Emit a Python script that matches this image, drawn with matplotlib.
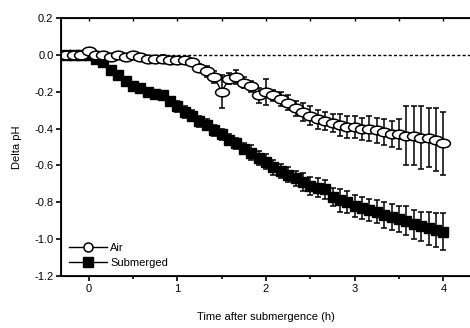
import numpy as np
import matplotlib
matplotlib.use('Agg')
import matplotlib.pyplot as plt
from matplotlib.path import Path
from matplotlib.lines import Line2D

plt.rcParams['font.family'] = ['Liberation Sans', 'DejaVu Sans']

# time of each reading, in minutes relative to submergence
minutes = [-15, -10, -5, 0, 5, 10, 15, 20, 25, 30, 35, 40, 45, 50, 55, 60,
           65, 70, 75, 80, 85, 90, 95, 100, 105, 110, 115, 120, 125, 130,
           135, 140, 145, 150, 155, 160, 165, 170, 175, 180, 185, 190, 195,
           200, 205, 210, 215, 220, 225, 230, 235, 240]

air = [0.0, 0.0, 0.0, 0.02, 0.0, 0.0, -0.01, 0.0, -0.01, 0.0, -0.01, -0.02,
       -0.02, -0.02, -0.03, -0.03, -0.03, -0.04, -0.07, -0.09, -0.12, -0.20,
       -0.13, -0.12, -0.15, -0.17, -0.22, -0.20, -0.22, -0.24, -0.26, -0.29,
       -0.31, -0.33, -0.35, -0.36, -0.37, -0.38, -0.39, -0.39, -0.40, -0.40,
       -0.41, -0.42, -0.43, -0.43, -0.44, -0.44, -0.45, -0.45, -0.46, -0.48]
air_err = [0.01, 0.01, 0.01, 0.01, 0.01, 0.01, 0.01, 0.01, 0.01, 0.01, 0.01,
           0.01, 0.01, 0.02, 0.02, 0.02, 0.02, 0.02, 0.02, 0.03, 0.03, 0.09,
           0.03, 0.04, 0.03, 0.03, 0.04, 0.07, 0.03, 0.04, 0.04, 0.04, 0.05,
           0.05, 0.05, 0.05, 0.05, 0.06, 0.06, 0.06, 0.06, 0.07, 0.07, 0.07,
           0.07, 0.08, 0.16, 0.16, 0.17, 0.16, 0.17, 0.17]

submerged = [0.0, 0.0, 0.0, 0.0, -0.02, -0.04, -0.08, -0.11, -0.14, -0.17,
             -0.18, -0.20, -0.21, -0.22, -0.25, -0.28, -0.31, -0.33, -0.36,
             -0.38, -0.41, -0.43, -0.46, -0.48, -0.51, -0.53, -0.56, -0.58,
             -0.61, -0.63, -0.65, -0.67, -0.69, -0.71, -0.72, -0.73, -0.77,
             -0.79, -0.80, -0.82, -0.83, -0.84, -0.85, -0.87, -0.88, -0.89,
             -0.90, -0.92, -0.93, -0.94, -0.95, -0.96]
sub_err = [0.01, 0.01, 0.01, 0.01, 0.01, 0.01, 0.02, 0.02, 0.02, 0.02, 0.02,
           0.02, 0.02, 0.02, 0.02, 0.03, 0.03, 0.03, 0.03, 0.03, 0.03, 0.03,
           0.03, 0.03, 0.03, 0.04, 0.04, 0.04, 0.04, 0.04, 0.04, 0.04, 0.05,
           0.05, 0.05, 0.05, 0.05, 0.06, 0.06, 0.06, 0.06, 0.06, 0.06, 0.07,
           0.07, 0.07, 0.08, 0.08, 0.08, 0.09, 0.09, 0.10]

hours = np.array(minutes) / 60.0

# wide ellipse marker for the air series
circ = Path.unit_circle()
ellipse = Path(circ.vertices * np.array([1.6, 1.0]), circ.codes)

fig = plt.figure(figsize=(4.7, 3.28), dpi=100)
ax = fig.add_axes([0.13, 0.1585, 0.87, 0.7865])

ax.axhline(0, color='black', lw=1.0, linestyle=(0, (2.2, 1.6)), zorder=1)

ax.errorbar(hours, submerged, yerr=sub_err, color='black', lw=1.0,
            marker='s', markersize=7.8, mfc='black', mec='black',
            elinewidth=1.1, capsize=2.2, capthick=1.1, zorder=2)
ax.errorbar(hours, air, yerr=air_err, color='black', lw=1.0,
            marker=ellipse, markersize=10, mfc='white', mec='black', mew=1.1,
            elinewidth=1.1, capsize=2.2, capthick=1.1, zorder=3)

ax.set_xlim(-0.31, 4.3)
ax.set_ylim(-1.2, 0.2)
ax.set_xticks([0, 1, 2, 3, 4])
ax.set_xticks([0.5, 1.5, 2.5, 3.5], minor=True)
ax.set_yticks(np.arange(-1.2, 0.21, 0.2))
ax.set_yticklabels(['-1.2', '-1.0', '-0.8', '-0.6', '-0.4', '-0.2', '0.0', '0.2'])
ax.tick_params(axis='both', which='major', direction='out', length=3.5,
               width=1.2, labelsize=8, pad=2)
ax.tick_params(axis='x', which='minor', direction='out', length=2, width=1.2)
ax.spines['right'].set_visible(False)
for s in ['left', 'bottom', 'top']:
    ax.spines[s].set_linewidth(1.3)

top = ax.twiny()
top.set_xlim(ax.get_xlim())
top.set_xticks(np.arange(0, 4.01, 0.5))
top.tick_params(axis='x', direction='in', length=2, width=1.0, labeltop=False)
top.spines['right'].set_visible(False)

ax.set_xlabel('Time after submergence (h)', fontsize=8, labelpad=13)
ax.set_ylabel('Delta pH', fontsize=8, labelpad=9)

handles = [
    Line2D([], [], color='black', lw=1.0, marker='o', markersize=6.5,
           mfc='white', mec='black', mew=1.1),
    Line2D([], [], color='black', lw=1.0, marker='s', markersize=7.5,
           mfc='black', mec='black'),
]
ax.legend(handles, ['Air', 'Submerged'], loc='lower left',
          bbox_to_anchor=(0.0, 0.0), frameon=False, fontsize=8,
          handlelength=3.4, handletextpad=0.3, labelspacing=0.45,
          borderaxespad=0.3)

fig.savefig('out.png', dpi=100)
